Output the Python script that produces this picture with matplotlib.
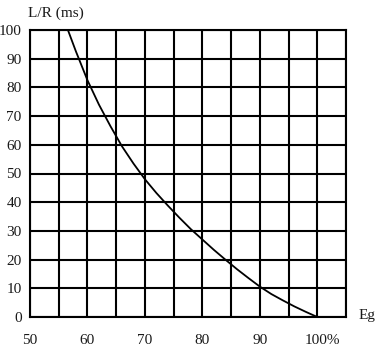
import numpy as np
import matplotlib.pyplot as plt
import matplotlib.transforms as mtransforms

plt.rcParams['font.family'] = ['Liberation Serif', 'DejaVu Serif']

# curve: Eg (%) vs L/R (ms)
eg = [56.6, 58, 60, 62, 64, 66, 68, 70, 72, 74, 76, 78, 80, 82, 84, 86, 88, 90, 92, 94, 96, 98, 100]
lr = [100, 92.5, 82.5, 74, 66.5, 59.5, 53.5, 48, 43.2, 38.8, 34.6, 30.6, 27, 23.4, 20, 16.7, 13.6, 10.6, 8.0, 5.8, 3.7, 1.8, 0]

x_grid = np.arange(50, 106, 5)
x_labels = ['50', '', '60', '', '70', '', '80', '', '90', '', '100%', '']
y_ticks = np.arange(0, 101, 10)

fig = plt.figure(figsize=(3.8, 3.53), dpi=100)
ax = fig.add_axes([30 / 380, 1 - 317 / 353, 316 / 380, 287 / 353])

ax.plot(eg, lr, color='black', lw=1.3, zorder=3, solid_capstyle='round', solid_joinstyle='round')

ax.set_xlim(50, 105)
ax.set_ylim(0, 100)
ax.set_xticks(x_grid)
ax.set_xticklabels(x_labels)
ax.set_yticks(y_ticks)
ax.tick_params(length=0, labelsize=11, colors='#1a1a1a')
ax.tick_params(axis='x', pad=12)
ax.tick_params(axis='y', pad=6)
shift = mtransforms.ScaledTranslation(5 / 100, 0, fig.dpi_scale_trans)
for lab in ax.get_xticklabels():
    if lab.get_text() == '100%':
        lab.set_transform(lab.get_transform() + shift)
ax.grid(True, color='black', lw=1.5)
for s in ax.spines.values():
    s.set_linewidth(1.5)

fig.text(28 / 380, 1 - 13 / 353, 'L/R (ms)', fontsize=11, ha='left', va='center', color='#1a1a1a')
fig.text(367 / 380, 1 - 315 / 353, 'Eg', fontsize=11, ha='center', va='center', color='#1a1a1a')

fig.savefig('out.png', dpi=100)
